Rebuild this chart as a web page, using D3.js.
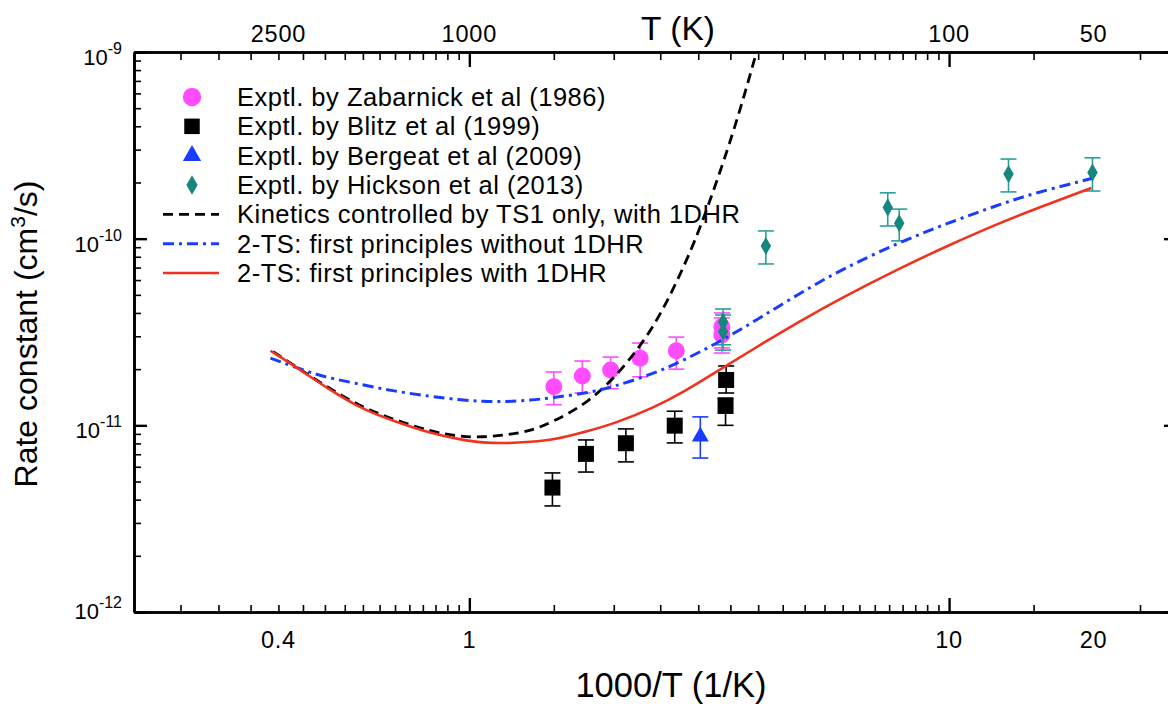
<!DOCTYPE html>
<html>
<head>
<meta charset="utf-8">
<script src="https://cdn.jsdelivr.net/npm/d3@7"></script>
<style>
body { margin: 0; background: #fff; }
svg { display: block; font-family: 'Liberation Sans', Arial, Helvetica, sans-serif; }
</style>
</head>
<body>
<div id="chart"></div>
<script>
// experimental points: x = 1000/T, y = k, lo/hi = error bar ends
const zabX = [1.50, 1.72, 1.97, 2.27, 2.70, 3.36, 3.36]
const zabY = [1.61e-11, 1.84e-11, 1.98e-11, 2.29e-11, 2.51e-11, 3.37e-11, 3.05e-11]
const zabHi = [1.93e-11, 2.21e-11, 2.32e-11, 2.76e-11, 2.97e-11, 4.0e-11, 3.76e-11]
const zabLo = [1.29e-11, 1.49e-11, 1.57e-11, 1.82e-11, 2.0e-11, 2.6e-11, 2.44e-11]

const blitzX = [1.49, 1.75, 2.12, 2.68, 3.43, 3.42]
const blitzY = [4.64e-12, 7.03e-12, 8.02e-12, 9.96e-12, 1.75e-11, 1.27e-11]
const blitzHi = [5.56e-12, 8.35e-12, 9.57e-12, 1.19e-11, 2.08e-11, 1.40e-11]
const blitzLo = [3.70e-12, 5.62e-12, 6.37e-12, 8.05e-12, 1.49e-11, 1.0e-11]

const bergX = [3.03]
const bergY = [8.70e-12]
const bergHi = [1.11e-11]
const bergLo = [6.68e-12]

const hickX = [3.38, 3.38, 4.15, 7.45, 7.87, 13.3, 19.9]
const hickY = [3.58e-11, 3.17e-11, 9.14e-11, 1.47e-10, 1.21e-10, 2.22e-10, 2.26e-10]
const hickHi = [4.2e-11, 3.9e-11, 1.10e-10, 1.76e-10, 1.44e-10, 2.67e-10, 2.71e-10]
const hickLo = [2.7e-11, 2.53e-11, 7.32e-11, 1.17e-10, 9.73e-11, 1.78e-10, 1.80e-10]

// computed curves
const curveX = [0.385, 0.45, 0.5, 0.6, 0.7, 0.83, 0.95, 1.07, 1.2, 1.34, 1.5, 1.76, 2.0, 2.42, 2.8, 3.33, 4.0, 4.9, 6.0, 7.9, 10, 12.7, 15, 19.8]
const withHR = [2.51e-11, 1.94e-11, 1.61e-11, 1.21e-11, 1.05e-11, 9.07e-12, 8.42e-12, 8.05e-12, 8.02e-12, 8.15e-12, 8.35e-12, 9.29e-12, 1.02e-11, 1.24e-11, 1.51e-11, 1.99e-11, 2.66e-11, 3.63e-11, 4.85e-11, 6.95e-11, 9.25e-11, 1.21e-10, 1.43e-10, 1.87e-10]
const withoutHR = [2.29e-11, 1.98e-11, 1.81e-11, 1.65e-11, 1.52e-11, 1.43e-11, 1.37e-11, 1.34e-11, 1.34e-11, 1.36e-11, 1.41e-11, 1.49e-11, 1.61e-11, 1.89e-11, 2.23e-11, 2.81e-11, 3.71e-11, 5.13e-11, 6.89e-11, 9.59e-11, 1.22e-10, 1.52e-10, 1.75e-10, 2.10e-10]

const ts1X = [0.39, 0.45, 0.5, 0.6, 0.7, 0.83, 0.95, 1.07, 1.2, 1.34, 1.5, 1.76, 2.06, 2.42, 2.71, 3.03, 3.5, 3.72, 3.95, 4.1]
const ts1Y = [2.48e-11, 1.95e-11, 1.63e-11, 1.24e-11, 1.07e-11, 9.27e-12, 8.7e-12, 8.63e-12, 8.89e-12, 9.3e-12, 1.05e-11, 1.31e-11, 1.91e-11, 3.31e-11, 5.89e-11, 1.12e-10, 3.31e-10, 5.56e-10, 9.55e-10, 1.35e-9]

// axis labels
const bottomLabels = [0.4, 1, 10, 20]
const topLabels = [2500, 1000, 100, 50]
const yLabels = [-9, -10, -11, -12]
const legendLabels = [
  'Exptl. by Zabarnick et al (1986)',
  'Exptl. by Blitz et al (1999)',
  'Exptl. by Bergeat et al (2009)',
  'Exptl. by Hickson et al (2013)',
  'Kinetics controlled by TS1 only, with 1DHR',
  '2-TS: first principles without 1DHR',
  '2-TS: first principles with 1DHR'
]

const width = 1168
const height = 704
const plotLeft = 134, plotRight = 1178, plotTop = 52, plotBottom = 612

const svg = d3.select('#chart').append('svg')
  .attr('width', width)
  .attr('height', height)

const x = d3.scaleLog().domain([0.2, 30]).range([plotLeft, plotRight])
const y = d3.scaleLog().domain([1e-12, 1e-9]).range([plotBottom, plotTop])

const magenta = '#ff4cff'
const teal = '#15877f'
const tealBar = '#2aa09c'
const blue = '#1a3cff'
const red = '#f0321e'

// minor / major ticks
const xMinor = d3.range(0.25, 0.96, 0.05).concat(d3.range(1.5, 9.6, 0.5), [15, 25])
const xMajor = [1, 10]
const yMinor = []
;[-12, -11, -10].forEach(e => { for (let m = 2; m <= 9; m++) yMinor.push(m * Math.pow(10, e)) })
const yMajor = [1e-12, 1e-11, 1e-10, 1e-9]

const axisGroup = svg.append('g').attr('class', 'axes')

function drawAxis (axisFn, scale, transform, major, minor, majorLen, minorLen) {
  const g = axisGroup.append('g').attr('transform', transform)
  g.call(axisFn(scale).tickValues(minor).tickSizeInner(-minorLen).tickSizeOuter(0).tickFormat(''))
  g.selectAll('.tick line').attr('stroke-width', 1.6)
  const g2 = axisGroup.append('g').attr('transform', transform)
  g2.call(axisFn(scale).tickValues(major).tickSizeInner(-majorLen).tickSizeOuter(0).tickFormat(''))
  g2.selectAll('.tick line').attr('stroke-width', 2.4)
  g.select('.domain').attr('stroke-width', 2.6)
  g2.select('.domain').attr('stroke-width', 2.6)
}

drawAxis(d3.axisBottom, x, 'translate(0,' + plotBottom + ')', xMajor, xMinor, 14, 7)
drawAxis(d3.axisTop, x, 'translate(0,' + plotTop + ')', xMajor, xMinor, 15, 8)
drawAxis(d3.axisLeft, y, 'translate(' + plotLeft + ',0)', yMajor, yMinor, 13, 7)
drawAxis(d3.axisRight, y, 'translate(' + plotRight + ',0)', yMajor, yMinor, 14, 7)

// tick labels
svg.append('g').selectAll('text')
  .data(bottomLabels)
  .enter().append('text')
  .attr('x', d => x(d))
  .attr('y', 648)
  .attr('text-anchor', 'middle')
  .attr('font-size', 23.5)
  .attr('letter-spacing', 0.8)
  .text(d => d)

svg.append('g').selectAll('text')
  .data(topLabels)
  .enter().append('text')
  .attr('x', d => x(1000 / d))
  .attr('y', 42)
  .attr('text-anchor', 'middle')
  .attr('font-size', 23.5)
  .attr('letter-spacing', 0.8)
  .text(d => d)

const yl = svg.append('g').selectAll('text')
  .data(yLabels)
  .enter().append('text')
  .attr('x', 122)
  .attr('y', d => y(Math.pow(10, d)) + (d === -12 ? 7 : 13))
  .attr('text-anchor', 'end')
  .attr('font-size', 22)
yl.append('tspan').text('10')
yl.append('tspan').attr('font-size', 16).attr('dy', -11).text(d => '' + d)

// axis titles
svg.append('text')
  .attr('x', 678).attr('y', 40)
  .attr('text-anchor', 'middle')
  .attr('font-size', 33.5)
  .text('T (K)')

svg.append('text')
  .attr('x', 671).attr('y', 697)
  .attr('text-anchor', 'middle')
  .attr('font-size', 34.5)
  .text('1000/T (1/K)')

const yt = svg.append('text')
  .attr('transform', 'translate(37,334) rotate(-90)')
  .attr('text-anchor', 'middle')
  .attr('font-size', 32)
yt.append('tspan').text('Rate constant (cm')
yt.append('tspan').attr('font-size', 21).attr('dy', -12).text('3')
yt.append('tspan').attr('dy', 12).text('/s)')

// clip for plot area
svg.append('clipPath').attr('id', 'plot-clip')
  .append('rect').attr('x', plotLeft).attr('y', plotTop).attr('width', plotRight - plotLeft).attr('height', plotBottom - plotTop)

const plot = svg.append('g').attr('clip-path', 'url(#plot-clip)')

function zipPts (xs, ys, his, los) {
  return xs.map((d, i) => ({ x: d, y: ys[i], hi: his[i], lo: los[i] }))
}

function errorBars (data, color) {
  const g = plot.append('g')
  const e = g.selectAll('g').data(data).enter().append('g')
  e.append('line')
    .attr('x1', d => x(d.x)).attr('x2', d => x(d.x))
    .attr('y1', d => y(d.hi)).attr('y2', d => y(d.lo))
    .attr('stroke', color).attr('stroke-width', 1.6)
  ;['hi', 'lo'].forEach(k => {
    e.append('line')
      .attr('x1', d => x(d.x) - 8).attr('x2', d => x(d.x) + 8)
      .attr('y1', d => y(d[k])).attr('y2', d => y(d[k]))
      .attr('stroke', color).attr('stroke-width', 1.6)
  })
}

function markers (data, type, size, color) {
  plot.append('g').selectAll('path').data(data).enter().append('path')
    .attr('transform', d => 'translate(' + x(d.x) + ',' + y(d.y) + ')')
    .attr('d', d3.symbol().type(type).size(size))
    .attr('fill', color)
}

const zab = zipPts(zabX, zabY, zabHi, zabLo)
const blitz = zipPts(blitzX, blitzY, blitzHi, blitzLo)
const berg = zipPts(bergX, bergY, bergHi, bergLo)
const hick = zipPts(hickX, hickY, hickHi, hickLo)

errorBars(blitz, '#000')
markers(blitz, d3.symbolSquare, 256, '#000')
errorBars(berg, blue)
markers(berg, d3.symbolTriangle, 125, blue)
errorBars(zab, magenta)
markers(zab, d3.symbolCircle, 227, magenta)
errorBars(hick, tealBar)
markers(hick, d3.symbolDiamond, 95, teal)

// curves
const line = d3.line()
  .x(d => x(d[0]))
  .y(d => y(d[1]))
  .curve(d3.curveBasis)

plot.append('path')
  .datum(ts1X.map((d, i) => [d, ts1Y[i]]))
  .attr('d', line)
  .attr('fill', 'none')
  .attr('stroke', '#000')
  .attr('stroke-width', 2.8)
  .attr('stroke-dasharray', '10,6')

plot.append('path')
  .datum(curveX.map((d, i) => [d, withoutHR[i]]))
  .attr('d', line)
  .attr('fill', 'none')
  .attr('stroke', blue)
  .attr('stroke-width', 3)
  .attr('stroke-dasharray', '11,5,3,5')

plot.append('path')
  .datum(curveX.map((d, i) => [d, withHR[i]]))
  .attr('d', line)
  .attr('fill', 'none')
  .attr('stroke', red)
  .attr('stroke-width', 2.6)

// legend
const legend = svg.append('g')
const rowY = d3.scaleLinear().domain([0, 6]).range([97, 273])
const legendKinds = [
  { type: d3.symbolCircle, size: 265, color: magenta },
  { type: d3.symbolSquare, size: 240, color: '#000' },
  { type: d3.symbolTriangle, size: 145, color: blue },
  { type: d3.symbolDiamond, size: 110, color: teal },
  { dash: '10,6', color: '#000', w: 2.8 },
  { dash: '11,5,3,5', color: blue, w: 3 },
  { dash: null, color: red, w: 2.6 }
]

legendKinds.forEach((k, i) => {
  const cy = rowY(i)
  if (k.type) {
    legend.append('path')
      .attr('transform', 'translate(192,' + cy + ')')
      .attr('d', d3.symbol().type(k.type).size(k.size))
      .attr('fill', k.color)
  } else {
    legend.append('line')
      .attr('x1', 163).attr('x2', 219)
      .attr('y1', cy).attr('y2', cy)
      .attr('stroke', k.color)
      .attr('stroke-width', k.w)
      .attr('stroke-dasharray', k.dash)
  }
  legend.append('text')
    .attr('x', 237).attr('y', cy + 9)
    .attr('font-size', 25.5)
    .attr('letter-spacing', 0.5)
    .text(legendLabels[i])
})
</script>
</body>
</html>
